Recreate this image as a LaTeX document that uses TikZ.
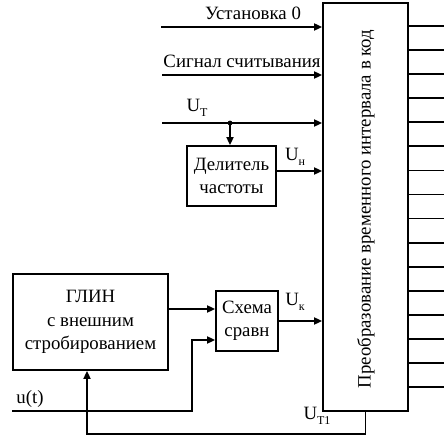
\documentclass[tikz,border=0pt]{standalone}
\usepackage{fontspec}
\setmainfont{Liberation Serif}
\usetikzlibrary{arrows.meta,calc}
\newcommand{\lowsub}[1]{\raisebox{-4.5pt}{\fontsize{12}{12}\selectfont #1}}
\begin{document}
\begin{tikzpicture}[x=1pt,y=-1pt,
  every node/.style={font=\fontsize{18.8}{23.5}\selectfont},
  blk/.style={draw,line width=1.8pt,inner sep=0pt,align=center},
  wire/.style={line width=1.8pt},
  arr/.style={line width=1.8pt,-{Triangle[length=8pt,width=7pt]}},
  lbl/.style={inner sep=0pt}]
\fill[white] (0,0) rectangle (446,446);
\useasboundingbox (0,0) rectangle (446,446);
% blocks
\node[blk,minimum width=85pt,minimum height=408pt] (conv) at (365.5,207) {};
\node[lbl,rotate=90] (convtext) at (366,209) {Преобразование временного интервала в код};
\node[blk,minimum width=89pt,minimum height=60pt] (div) at (231.5,176) {Делитель\\частоты};
\node[blk,minimum width=155pt,minimum height=96pt] (glin) at (90.5,322) {ГЛИН\\с внешним\\стробированием};
\node[blk,minimum width=62pt,minimum height=60pt] (cmp) at (247,321) {Схема\\сравн};
% outputs
\foreach \i in {0,...,15}{
  \coordinate (o\i) at (444,{26+\i*24.07});
  \draw[wire] (conv.east |- o\i) -- (o\i);
}
% inputs
\coordinate (in1) at (161,27);
\coordinate (in2) at (162,75);
\coordinate (in3) at (162,123);
\draw[arr] (in1) -- (in1 -| conv.west);
\draw[arr] (in2) -- (in2 -| conv.west);
\draw[arr] (in3) -- (in3 -| conv.west);
\node[lbl] (l1) at (253,13) {Установка 0};
\node[lbl] (l2) at (242,61) {Сигнал считывания};
\node[lbl] (l3) at (197,108) {U\lowsub{Т}};
% tap
\coordinate (tap) at (230,123);
\fill (tap) circle (2.4pt);
\draw[arr] (tap) -- (tap |- div.north);
% divider output
\draw[arr] ([yshift=5pt]div.east) -- ([yshift=5pt]div.east -| conv.west);
\node[lbl] (lh) at (295,157) {U\lowsub{н}};
% glin to cmp
\draw[arr] ([yshift=13pt]glin.east) -- ([yshift=13pt]glin.east -| cmp.west);
% u(t)
\coordinate (u0) at (12,411);
\coordinate (ucorner) at (192,411);
\draw[arr] (u0) -- (ucorner) |- ([yshift=-19pt]cmp.west);
\node[lbl] (lu) at (30,399) {u(t)};
% cmp output
\draw[arr] (cmp.east) -- (cmp.east -| conv.west);
\node[lbl] (lk) at (295,302) {U\lowsub{к}};
% feedback
\coordinate (fb) at (87,434);
\draw[arr] (conv.south) |- (fb) -- (fb |- glin.south);
\node[lbl] (lt1) at (317,416) {U\lowsub{Т1}};
\end{tikzpicture}
\end{document}
